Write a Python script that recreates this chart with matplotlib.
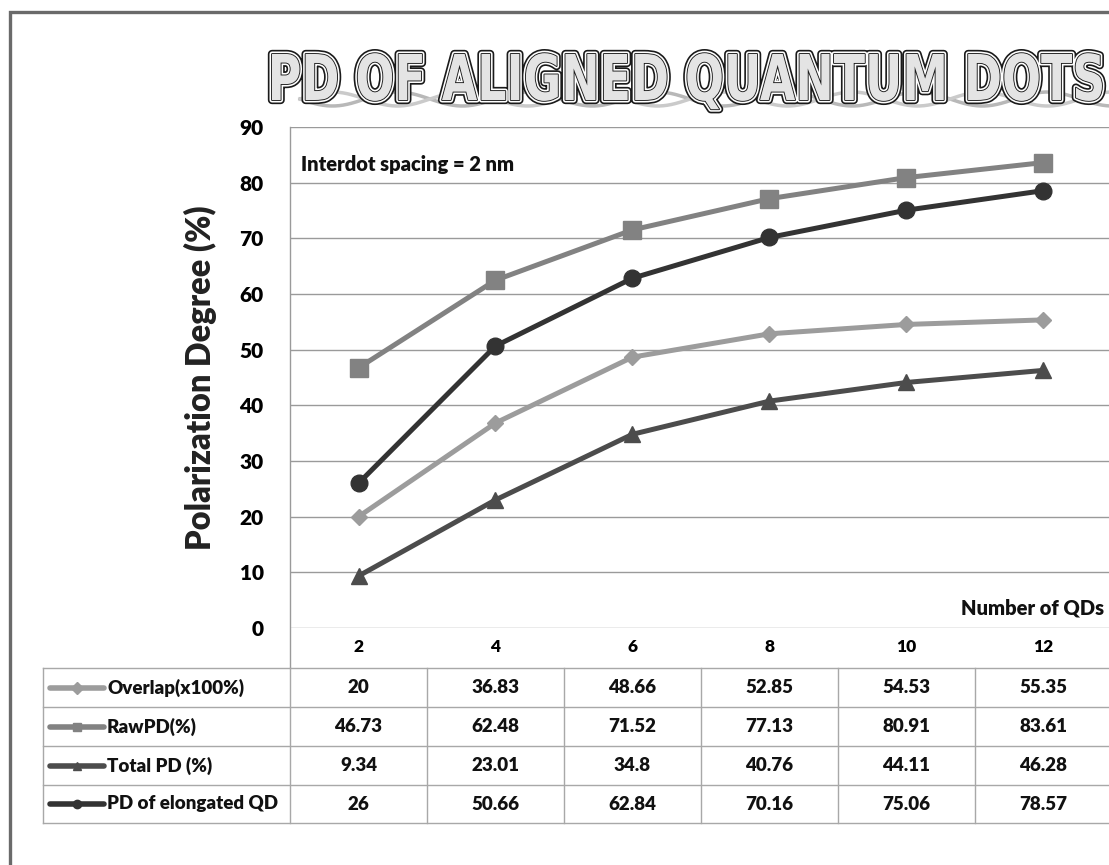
import numpy as np
import matplotlib
matplotlib.use("Agg")
import matplotlib.pyplot as plt
import matplotlib.transforms as mtransforms
import matplotlib.patheffects as pe
from matplotlib.textpath import TextPath
from matplotlib.patches import PathPatch
from matplotlib.font_manager import FontProperties

plt.rcParams['font.family'] = ['Lato', 'DejaVu Sans']
plt.rcParams['font.weight'] = 'heavy'
plt.rcParams['axes.labelweight'] = 'heavy'

# data
n_qds = [2, 4, 6, 8, 10, 12]
overlap = [20, 36.83, 48.66, 52.85, 54.53, 55.35]
raw_pd = [46.73, 62.48, 71.52, 77.13, 80.91, 83.61]
total_pd = [9.34, 23.01, 34.8, 40.76, 44.11, 46.28]
pd_elongated = [26, 50.66, 62.84, 70.16, 75.06, 78.57]

series_names = ["Overlap(x100%)", "RawPD(%)", "Total PD (%)", "PD of elongated QD"]
series_values = [overlap, raw_pd, total_pd, pd_elongated]
series_colors = ["#9c9c9c", "#828282", "#4c4c4c", "#333333"]
series_markers = ["D", "s", "^", "o"]
marker_sizes = [8, 13, 11, 12]

W, H = 1109, 865
fig = plt.figure(figsize=(W / 100, H / 100), dpi=100)

# background canvas in pixel units (frame, title, table)
canvas = fig.add_axes([0, 0, 1, 1], zorder=0)
canvas.set_xlim(0, W)
canvas.set_ylim(H, 0)
canvas.axis("off")

# chart area
px_left, px_top, px_bottom, col_w = 290, 127, 628, 137
ax = fig.add_axes([px_left / W, (H - px_bottom) / H, 6 * col_w / W, (px_bottom - px_top) / H],
                  zorder=1)
ax.patch.set_alpha(0)
x = np.arange(len(n_qds))
for vals, name, c, m, ms in zip(series_values, series_names, series_colors,
                                series_markers, marker_sizes):
    ax.plot(x, vals, color=c, lw=3.6, marker=m, ms=ms, mec=c, mfc=c, label=name,
            solid_capstyle="round", clip_on=False)

ax.set_xlim(-0.5, len(n_qds) - 0.5)
ax.set_ylim(0, 90)
ax.set_yticks(np.arange(0, 91, 10))
ax.set_xticks(x)
ax.set_xticklabels([str(v) for v in n_qds])
ax.tick_params(axis="y", length=0, pad=19, labelsize=15)
ax.tick_params(axis="x", length=0, pad=8, labelsize=12.5)
ax.grid(axis="y", color="#9a9a9a", lw=1)
for s in ax.spines.values():
    s.set_visible(False)
ax.set_ylabel("Polarization Degree (%)", fontsize=23.5, color="#222222", labelpad=16)
ax.text(0.013, 0.925, "Interdot spacing = 2 nm", transform=ax.transAxes,
        fontsize=14.5, va="center", ha="left", color="#111111")
ax.text(0.99, 0.04, "Number of QDs", transform=ax.transAxes,
        fontsize=14.5, va="center", ha="right", color="#111111")

# vertical axis line, carried through the category row
canvas.plot([px_left, px_left], [px_top, 668], color="#9a9a9a", lw=1)

# outer frame
canvas.plot([10, 10, W], [H, 12, 12], color="#6a6a6a", lw=2.4, solid_joinstyle="miter")

# wavy ribbon behind the title
wx = np.linspace(300, W, 600)
canvas.plot(wx, 99 + 7 * np.sin((wx - 300) / 130 * 2 * np.pi), color="#b8b8b8", lw=2.5)
canvas.plot(wx, 99 + 7 * np.sin((wx - 300) / 130 * 2 * np.pi + np.pi), color="#cacaca", lw=2.5)

# outlined title
title = "PD OF ALIGNED QUANTUM DOTS"
tp = TextPath((0, 0), title, size=1, prop=FontProperties(family="DejaVu Sans", weight="bold"))
ext = tp.get_extents()
sx = (1102 - 272) / ext.width
sy = 46 / 0.729
tr = mtransforms.Affine2D().translate(-ext.x0, 0).scale(sx, -sy).translate(272, 100) + canvas.transData
title_patch = PathPatch(tp, transform=tr, facecolor="#e4e4e4", edgecolor="none", zorder=3)
title_patch.set_path_effects([pe.Stroke(linewidth=6, foreground="#1a1a1a", joinstyle="round"),
                              pe.Stroke(linewidth=3.6, foreground="white", joinstyle="round"),
                              pe.Stroke(linewidth=1.3, foreground="#1a1a1a", joinstyle="round"),
                              pe.Normal()])
canvas.add_patch(title_patch)

# data table under the chart
blend = mtransforms.blended_transform_factory(ax.transData, canvas.transData)
row_y = [668, 707, 746, 785, 823]
for y in row_y:
    canvas.plot([43, W + 5], [y, y], color="#a8a8a8", lw=1, clip_on=False)
canvas.plot([43, 43], [row_y[0], row_y[-1]], color="#a8a8a8", lw=1)
for xv in np.arange(len(n_qds) + 1) - 0.5:
    canvas.plot([xv, xv], [row_y[0], row_y[-1]], color="#a8a8a8", lw=1, transform=blend)

for r, (vals, name, c, m) in enumerate(zip(series_values, series_names, series_colors, series_markers)):
    yc = (row_y[r] + row_y[r + 1]) / 2
    canvas.plot([50, 104], [yc, yc], color=c, lw=4, solid_capstyle="round")
    canvas.plot([77], [yc], marker=m, ms=6, color=c)
    canvas.text(107, yc, name, fontsize=13.5, ha="left", va="center", color="#111111")
    for i, v in enumerate(vals):
        canvas.text(i, yc, f"{v:g}", fontsize=13.5, ha="center", va="center",
                    color="#111111", transform=blend)

fig.savefig("out.png", dpi=100)
